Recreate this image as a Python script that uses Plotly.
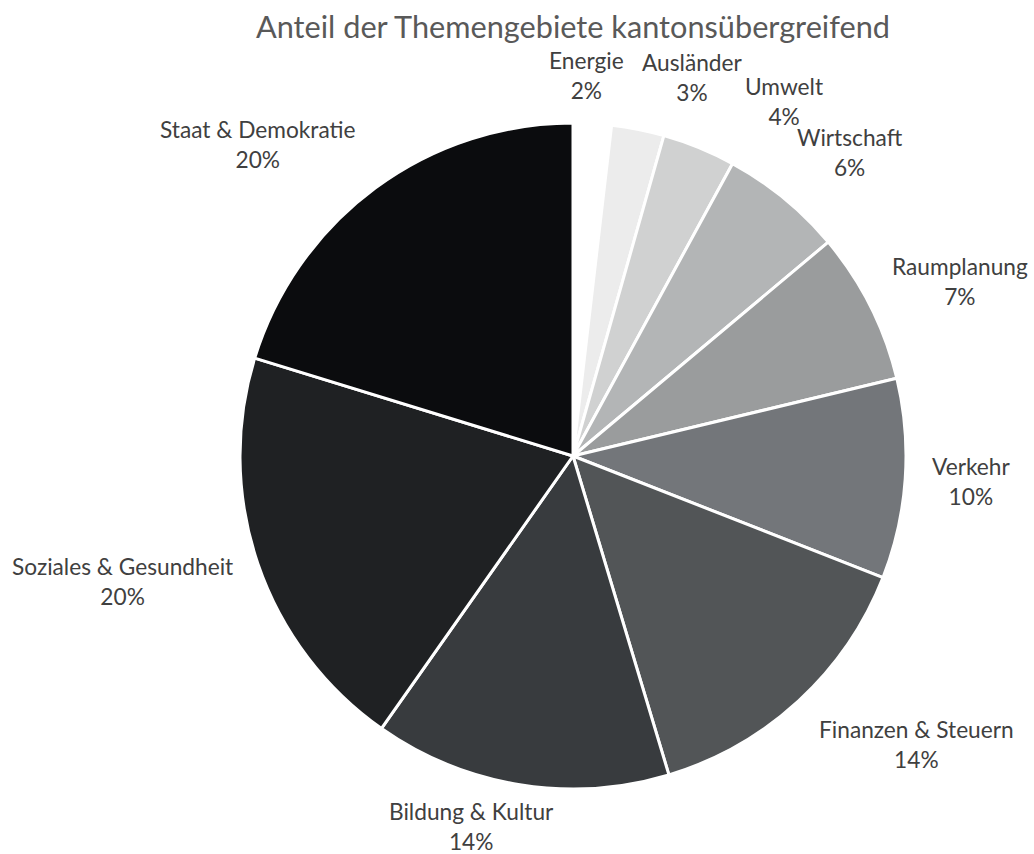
import plotly.graph_objects as go

# ---- data ----
categories = ["Energie", "Ausländer", "Umwelt", "Wirtschaft", "Raumplanung", "Verkehr",
              "Finanzen & Steuern", "Bildung & Kultur", "Soziales & Gesundheit", "Staat & Demokratie"]
values = [1.85, 2.55, 3.55, 5.95, 7.35, 9.7, 14.4, 14.4, 20.0, 20.25]
colors = ["#ffffff", "#ececec", "#d0d1d1", "#b3b5b6", "#9a9c9d", "#73767a",
          "#525557", "#383b3e", "#1f2123", "#0b0c0e"]

# ---- layout (label block centres in page pixels, like Excel's best-fit labels) ----
W, H = 1034, 854
CX, CY, R = 573, 456, 333
label_pos_px = [(586, 76), (692, 78), (784, 101), (850, 153), (960, 281), (971, 482),
                (916, 744), (471, 826), (122, 581), (258, 145)]

fig = go.Figure(go.Pie(
    labels=categories,
    values=values,
    sort=False,
    direction="clockwise",
    rotation=0,
    marker=dict(colors=colors, line=dict(color="white", width=3)),
    textinfo="none",
    hoverinfo="label+percent",
    showlegend=False,
    domain=dict(x=[(CX - R) / W, (CX + R) / W], y=[1 - (CY + R) / H, 1 - (CY - R) / H]),
))

total = sum(values)
for lab, val, (px, py) in zip(categories, values, label_pos_px):
    fig.add_annotation(
        x=px / W, y=1 - py / H, xref="paper", yref="paper",
        xanchor="center", yanchor="middle", showarrow=False,
        text=f"{lab}<br>{round(100 * val / total)}%",
        font=dict(family="Lato", size=22.7, color="#404040"),
        align="center",
    )

fig.update_layout(
    width=W, height=H,
    paper_bgcolor="white", plot_bgcolor="white",
    margin=dict(l=0, r=0, t=0, b=0),
    title=dict(text="Anteil der Themengebiete kantonsübergreifend",
               x=573 / W, xanchor="center", y=1 - 27 / H, yanchor="middle",
               font=dict(family="Lato", size=30.7, color="#595959")),
)

fig.write_html("out.html", config={"displayModeBar": False},
               post_script="document.body.style.margin='0';")
